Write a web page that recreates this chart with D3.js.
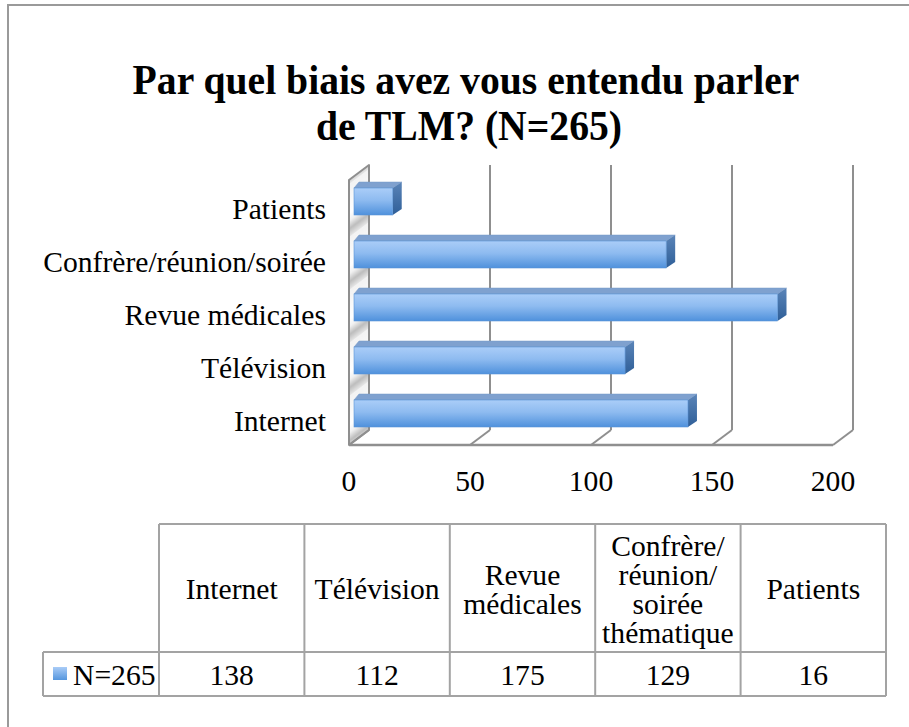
<!DOCTYPE html>
<html>
<head>
<meta charset="utf-8">
<script src="https://cdn.jsdelivr.net/npm/d3@7"></script>
<style>
  html, body { margin: 0; padding: 0; background: #fff; }
  svg { display: block; }
  text { font-family: "Liberation Serif", "DejaVu Serif", serif; fill: #000; }
</style>
</head>
<body>
<svg id="chart" width="909" height="727"></svg>
<script>
// ---- data ----
const titleLines = ["Par quel biais avez vous entendu parler", "de TLM? (N=265)"];
const categories = ["Internet", "Télévision", "Revue médicales", "Confrère/réunion/soirée", "Patients"];
const values = [138, 112, 175, 129, 16];
const seriesName = "N=265";
const xTicks = [0, 50, 100, 150, 200];
const tableHeaders = [["Internet"], ["Télévision"], ["Revue", "médicales"], ["Confrère/", "réunion/", "soirée", "thématique"], ["Patients"]];

// ---- setup ----
const svg = d3.select("#chart");
const defs = svg.append("defs");

function fitFont(sel, target) {
  const base = parseFloat(sel.attr("font-size"));
  const w = sel.node().getComputedTextLength();
  return base * target / w;
}

// outer border
svg.append("path").attr("d", "M8,740 L8,5 L920,5")
  .attr("fill", "none").attr("stroke", "#9a9a9a").attr("stroke-width", 2);

// title (slightly tall, condensed look via horizontal scaling)
const tk = 1.06;
const title = svg.append("g");
const t1 = title.append("text").attr("x", 0).attr("y", 0).attr("text-anchor", "middle")
  .attr("font-weight", "bold").attr("font-size", 36).text(titleLines[0]);
const titleSize = fitFont(t1, 667) * tk;
t1.attr("font-size", titleSize).attr("transform", `translate(466,94) scale(${1 / tk},1)`);
title.append("text").attr("x", 0).attr("y", 0).attr("text-anchor", "middle")
  .attr("font-weight", "bold").attr("font-size", titleSize).text(titleLines[1])
  .attr("transform", `translate(469,140) scale(${1 / tk},1)`);

// scales
const x = d3.scaleLinear().domain([0, 200]).range([349, 833]);
const y = d3.scaleBand().domain(categories.slice().reverse()).range([180, 445]);
const DX = 20, DY = 15;
const floorY = 445, topY = 165;

// wall pattern
const wallPat = defs.append("pattern").attr("id", "wallPat")
  .attr("patternUnits", "userSpaceOnUse").attr("width", 40).attr("height", y.step())
  .attr("patternTransform", `translate(0,${y.range()[0] + 2}) skewY(-37)`);
const wpg = defs.append("linearGradient").attr("id", "wpg").attr("x1", 0).attr("y1", 0).attr("x2", 0).attr("y2", 1);
[["0%", "#f2f2f2"], ["55%", "#ffffff"], ["70%", "#f0f0f0"], ["85%", "#bdbdbd"], ["100%", "#e6e6e6"]]
  .forEach(([o, c]) => wpg.append("stop").attr("offset", o).attr("stop-color", c));
wallPat.append("rect").attr("width", 40).attr("height", y.step()).attr("fill", "url(#wpg)");

const frontGrad = defs.append("linearGradient").attr("id", "frontGrad")
  .attr("x1", 0).attr("y1", 0).attr("x2", 0).attr("y2", 1);
[["0%", "#aacdf8"], ["45%", "#8ebbf0"], ["100%", "#4f91dc"]]
  .forEach(([o, c]) => frontGrad.append("stop").attr("offset", o).attr("stop-color", c));
const sideGrad = defs.append("linearGradient").attr("id", "sideGrad")
  .attr("x1", 0).attr("y1", 0).attr("x2", 0).attr("y2", 1);
[["0%", "#5a84b8"], ["100%", "#2f5f98"]]
  .forEach(([o, c]) => sideGrad.append("stop").attr("offset", o).attr("stop-color", c));
const legGrad = defs.append("linearGradient").attr("id", "legGrad")
  .attr("x1", 0).attr("y1", 0).attr("x2", 0).attr("y2", 1);
[["0%", "#a9ccf7"], ["100%", "#5596de"]]
  .forEach(([o, c]) => legGrad.append("stop").attr("offset", o).attr("stop-color", c));

const gridColor = "#8f8f8f";
const plot = svg.append("g");

// left side wall
const x0 = x(0);
plot.append("path")
  .attr("d", `M${x0},${y.range()[0]} L${x0 + DX},${topY} L${x0 + DX},${floorY - DY} L${x0},${floorY} Z`)
  .attr("fill", "url(#wallPat)").attr("stroke", gridColor).attr("stroke-width", 2)
  .attr("stroke-linejoin", "round");

// back gridlines
plot.selectAll(".grid").data(xTicks).join("line").attr("class", "grid")
  .attr("x1", d => x(d) + DX).attr("x2", d => x(d) + DX)
  .attr("y1", topY).attr("y2", floorY - DY)
  .attr("stroke", gridColor).attr("stroke-width", 2);
// floor diagonals
plot.selectAll(".fdiag").data(xTicks).join("line").attr("class", "fdiag")
  .attr("x1", d => x(d) + DX).attr("x2", d => x(d))
  .attr("y1", floorY - DY).attr("y2", floorY)
  .attr("stroke", gridColor).attr("stroke-width", 2);
// floor front edge
plot.append("line").attr("x1", x(0)).attr("x2", x(200)).attr("y1", floorY).attr("y2", floorY)
  .attr("stroke", gridColor).attr("stroke-width", 2.5);

// bars
const bOff = 5, bTop = 8, bH = 27, bdxL = 5, bdxR = 9, bdy = 6;
const bars = plot.selectAll(".bar").data(categories.map((c, i) => ({ c, v: values[i] })))
  .join("g").attr("class", "bar");
bars.append("path").attr("d", d => {
  const xa = x(0) + bOff, xb = x(d.v) + bOff, yt = y(d.c) + bTop;
  return `M${xa},${yt} L${xa + bdxL},${yt - bdy} L${xb + bdxR},${yt - bdy} L${xb},${yt} Z`;
}).attr("fill", "#7fa1cf").attr("stroke", "#7799c6").attr("stroke-width", 0.5);
bars.append("path").attr("d", d => {
  const xb = x(d.v) + bOff, yt = y(d.c) + bTop;
  return `M${xb},${yt} L${xb + bdxR},${yt - bdy} L${xb + bdxR},${yt - bdy + bH} L${xb},${yt + bH} Z`;
}).attr("fill", "url(#sideGrad)");
bars.append("rect")
  .attr("x", x(0) + bOff).attr("y", d => y(d.c) + bTop)
  .attr("width", d => x(d.v) - x(0)).attr("height", bH)
  .attr("fill", "url(#frontGrad)").attr("stroke", "#5b94d6").attr("stroke-width", 0.6);

// category labels
const labels = svg.append("g").selectAll("text").data(categories).join("text")
  .attr("x", 326).attr("y", d => y(d) + y.bandwidth() / 2 + 2)
  .attr("text-anchor", "end").attr("dominant-baseline", "central")
  .attr("font-size", 22).text(d => d);
const labSize = fitFont(labels.filter(d => d === "Confrère/réunion/soirée"), 283);
labels.attr("font-size", labSize);

// x tick labels
svg.append("g").selectAll("text").data(xTicks).join("text")
  .attr("x", d => x(d)).attr("y", 481).attr("text-anchor", "middle")
  .attr("dominant-baseline", "central").attr("font-size", labSize).text(d => d);

// ---- data table ----
const col = d3.scaleBand().domain(categories).range([159, 886]);
const tTop = 524, tMid = 652, tBot = 696, legLeft = 43;
const lineC = "#a3a3a3";
const tbl = svg.append("g");
tbl.append("line").attr("x1", col.range()[0]).attr("x2", col.range()[1]).attr("y1", tTop).attr("y2", tTop)
  .attr("stroke", lineC).attr("stroke-width", 2);
tbl.append("line").attr("x1", legLeft).attr("x2", col.range()[1]).attr("y1", tMid).attr("y2", tMid)
  .attr("stroke", lineC).attr("stroke-width", 2);
tbl.append("line").attr("x1", legLeft).attr("x2", col.range()[1]).attr("y1", tBot).attr("y2", tBot)
  .attr("stroke", lineC).attr("stroke-width", 2);
const vx = categories.map(c => col(c)).concat([col.range()[1]]);
tbl.selectAll(".vl").data(vx).join("line").attr("class", "vl")
  .attr("x1", d => d).attr("x2", d => d).attr("y1", tTop).attr("y2", tBot)
  .attr("stroke", lineC).attr("stroke-width", 2);
tbl.append("line").attr("x1", legLeft).attr("x2", legLeft).attr("y1", tMid).attr("y2", tBot)
  .attr("stroke", lineC).attr("stroke-width", 2);

// headers
const lh = 29, hc = (tTop + tMid) / 2 + 1;
categories.forEach((c, i) => {
  const lines = tableHeaders[i];
  const t = tbl.append("text").attr("text-anchor", "middle").attr("font-size", labSize);
  lines.forEach((ln, j) => {
    t.append("tspan").attr("x", col(c) + col.bandwidth() / 2)
      .attr("y", hc + (j - (lines.length - 1) / 2) * lh)
      .attr("dominant-baseline", "central").text(ln);
  });
});
// values
const rc = (tMid + tBot) / 2 + 1;
tbl.selectAll(".val").data(categories.map((c, i) => ({ c, v: values[i] }))).join("text")
  .attr("class", "val").attr("x", d => col(d.c) + col.bandwidth() / 2).attr("y", rc)
  .attr("text-anchor", "middle").attr("dominant-baseline", "central")
  .attr("font-size", labSize).text(d => d.v);
// legend key
tbl.append("rect").attr("x", 53).attr("y", rc - 8).attr("width", 14).attr("height", 13)
  .attr("fill", "url(#legGrad)");
tbl.append("text").attr("x", 73).attr("y", rc).attr("dominant-baseline", "central")
  .attr("font-size", labSize).text(seriesName);
</script>
</body>
</html>
